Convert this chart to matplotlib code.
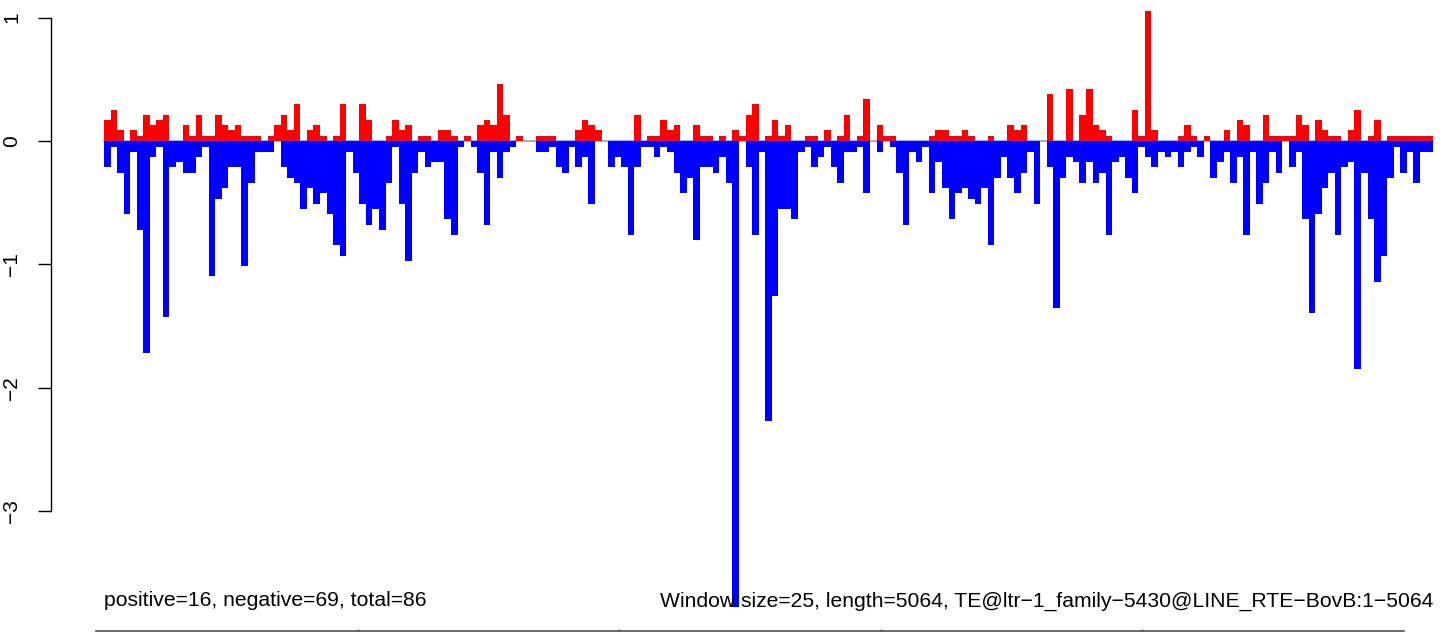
import numpy as np
import matplotlib
matplotlib.use("Agg")
import matplotlib.pyplot as plt

plt.rcParams['font.family'] = ['Liberation Sans', 'DejaVu Sans']

# per-window positive / negative scores (window size 25, length 5064)
positive = [
    0.17, 0.25, 0.09, 0, 0.09, 0.04, 0.21, 0.13, 0.17, 0.21,
    0, 0, 0.13, 0.04, 0.21, 0.04, 0.04, 0.21, 0.13, 0.09,
    0.13, 0.04, 0.04, 0.04, 0, 0.04, 0.13, 0.21, 0.09, 0.30,
    0, 0.09, 0.13, 0.04, 0, 0.04, 0.30, 0, 0, 0.30,
    0.17, 0, 0, 0.04, 0.17, 0.09, 0.13, 0, 0.04, 0.04,
    0, 0.09, 0.09, 0.04, 0, 0.04, 0, 0.13, 0.17, 0.13,
    0.46, 0.21, 0, 0.04, 0, 0, 0.04, 0.04, 0.04, 0,
    0, 0, 0.09, 0.17, 0.13, 0.09, 0, 0, 0, 0,
    0, 0.21, 0, 0.04, 0.04, 0.17, 0.09, 0.13, 0, 0,
    0.13, 0.04, 0.04, 0, 0.04, 0, 0.09, 0.04, 0.21, 0.30,
    0, 0.04, 0.17, 0.04, 0.13, 0, 0, 0.04, 0.04, 0,
    0.09, 0, 0.04, 0.21, 0, 0.04, 0.34, 0, 0.13, 0.04,
    0.04, 0, 0, 0, 0, 0, 0.04, 0.09, 0.09, 0.04,
    0.04, 0.09, 0.04, 0, 0, 0.04, 0, 0, 0.13, 0.09,
    0.13, 0, 0, 0, 0.38, 0, 0, 0.42, 0, 0.21,
    0.42, 0.13, 0.09, 0.04, 0, 0, 0, 0.25, 0.04, 1.05,
    0.09, 0, 0, 0, 0.04, 0.13, 0.04, 0, 0.04, 0,
    0, 0.09, 0, 0.17, 0.13, 0, 0, 0.21, 0.04, 0.04,
    0.04, 0.04, 0.21, 0.13, 0, 0.17, 0.09, 0.04, 0.04, 0,
    0.09, 0.25, 0, 0.04, 0.17, 0, 0.04, 0.04, 0.04, 0.04,
    0.04, 0.04, 0.04,
]
negative = [
    0.21, 0.05, 0.26, 0.59, 0.09, 0.72, 1.72, 0.13, 0.05, 1.43,
    0.21, 0.17, 0.26, 0.26, 0.13, 0.05, 1.09, 0.47, 0.38, 0.21,
    0.21, 1.01, 0.34, 0.09, 0.09, 0.09, 0, 0.21, 0.30, 0.34,
    0.55, 0.38, 0.51, 0.42, 0.59, 0.84, 0.93, 0.09, 0.26, 0.51,
    0.68, 0.55, 0.72, 0.34, 0.05, 0.51, 0.97, 0.26, 0.09, 0.21,
    0.17, 0.17, 0.63, 0.76, 0.05, 0, 0.05, 0.26, 0.68, 0.09,
    0.30, 0.09, 0.05, 0, 0, 0, 0.09, 0.09, 0.05, 0.21,
    0.26, 0.05, 0.21, 0.13, 0.51, 0, 0, 0.21, 0.13, 0.21,
    0.76, 0.21, 0.05, 0.05, 0.13, 0.05, 0.09, 0.26, 0.42, 0.30,
    0.80, 0.21, 0.21, 0.26, 0.13, 0.34, 3.78, 0, 0.21, 0.76,
    0.09, 2.27, 1.26, 0.55, 0.55, 0.63, 0.09, 0.05, 0.21, 0.13,
    0.05, 0.21, 0.34, 0.09, 0.09, 0.05, 0.42, 0, 0.09, 0,
    0.05, 0.26, 0.68, 0.09, 0.17, 0.05, 0.42, 0.17, 0.38, 0.63,
    0.42, 0.38, 0.47, 0.51, 0.38, 0.84, 0.30, 0.13, 0.30, 0.42,
    0.26, 0.09, 0.51, 0, 0.21, 1.35, 0.30, 0.13, 0.17, 0.34,
    0.17, 0.34, 0.26, 0.76, 0.17, 0.13, 0.30, 0.42, 0.05, 0.13,
    0.21, 0.09, 0.13, 0.09, 0.21, 0.09, 0.05, 0.13, 0, 0.30,
    0.17, 0.09, 0.34, 0.13, 0.76, 0.09, 0.51, 0.34, 0.09, 0.26,
    0, 0.21, 0.09, 0.63, 1.39, 0.59, 0.38, 0.26, 0.76, 0.21,
    0.17, 1.85, 0.26, 0.63, 1.14, 0.93, 0.30, 0.05, 0.26, 0.09,
    0.34, 0.09, 0.09,
]
y_ticks = [1, 0, -1, -2, -3]
y_ticklabels = ["1", "0", "\u22121", "\u22122", "\u22123"]
left_note = "positive=16, negative=69, total=86"
right_note = ("Window size=25, length=5064, "
              "TE@ltr\u22121_family\u22125430@LINE_RTE\u2212BovB:1\u22125064")

pos = np.array(positive)
neg = -np.array(negative)
n = len(pos)
x = np.arange(n)

W, H = 1441, 632
fig = plt.figure(figsize=(W / 100, H / 100), dpi=100)
ax = fig.add_axes([51 / W, 0, (W - 51) / W, 1])

px_x = 1329 / n          # pixels per window
px_y = 123.4             # pixels per unit
ax.set_xlim((51 - 104) / px_x, (W - 104) / px_x)
ax.set_ylim(-(H - 141) / px_y, 141 / px_y)

ax.plot([0, n], [0, 0], color="#a0a0a0", lw=1.2, zorder=1)
ax.bar(x, pos, width=1, align="edge", color="#ff0000", linewidth=0, zorder=2)
ax.bar(x, neg, width=1, align="edge", color="#0000ff", linewidth=0, zorder=2)

for s in ["top", "right", "bottom"]:
    ax.spines[s].set_visible(False)
ax.spines["left"].set_bounds(-3, 1)
ax.spines["left"].set_linewidth(1)
ax.set_xticks([])
ax.set_yticks(y_ticks)
ax.set_yticklabels(y_ticklabels, rotation=90, va="center", fontsize=15)
ax.tick_params(axis="y", length=9.5, width=1, pad=12)

ytxt = -(601 - 141) / px_y
ax.text(0, ytxt, left_note, ha="left", va="center", fontsize=15.2)
ax.text(n, ytxt, right_note, ha="right", va="center", fontsize=15.2)

# strip edge at the very bottom, split in five segments
yb = -(631 - 141) / px_y
xb0, xb1 = (96 - 104) / px_x, (1404 - 104) / px_x
ax.plot([xb0, xb1], [yb, yb], color="#505050", lw=1.2, clip_on=False)
ax.vlines(np.linspace(xb0, xb1, 6)[1:-1], yb, yb + 0.02,
          color="#505050", lw=1, clip_on=False)

fig.savefig("out.png", dpi=100)
